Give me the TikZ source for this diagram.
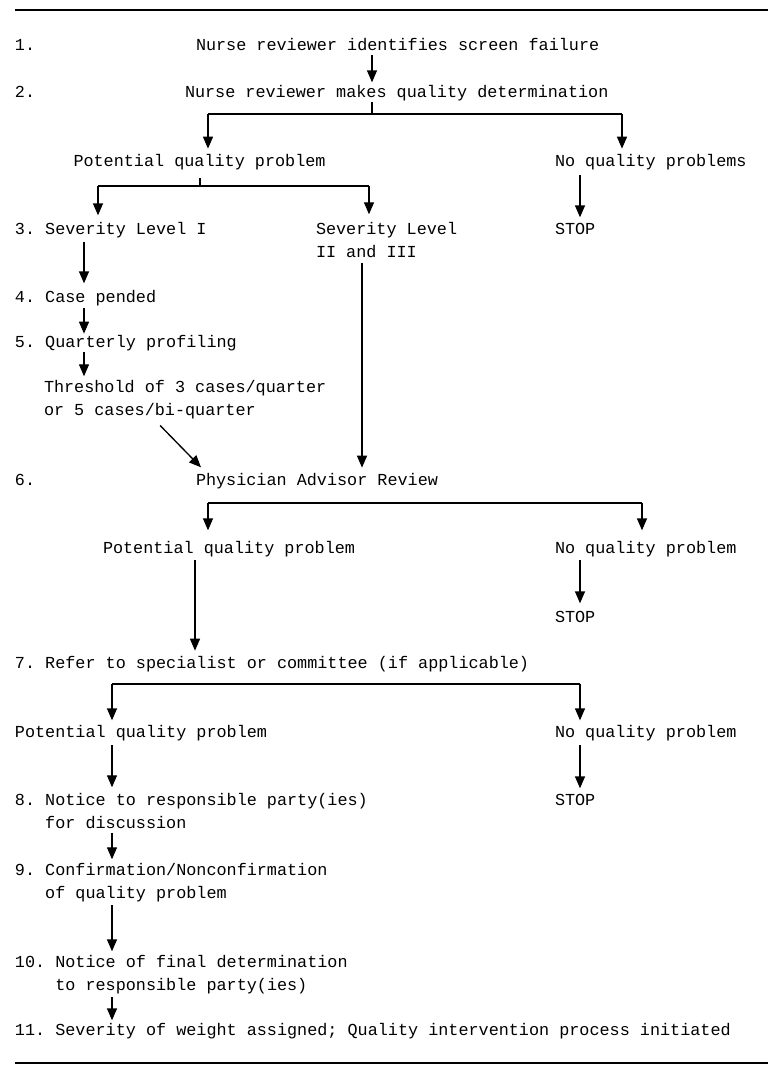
\documentclass[tikz,border=0pt]{standalone}
\usepackage{fontspec}
\newfontfamily\typeFont{Liberation Mono}
\usetikzlibrary{arrows.meta}
\newcommand{\forkBar}[4]{%%
  %% A fork bar named #1 at height #2, from #3 to #4.
  \coordinate (#1l) at (#3,#2);
  \coordinate (#1r) at (#4,#2);
  \draw[barStyle] (#1l) -- (#1r);
}

\begin{document}
\frenchspacing
\begin{tikzpicture}[%%
  x=0.75pt,y=0.75pt,%%
  textStyle/.style={anchor=base west,inner sep=0pt,outer sep=0pt,%%
    font={\typeFont\fontsize{12.6}{16.9}\selectfont\frenchspacing}},%%
  oneLine/.style={textStyle,text height=8pt,text depth=2.5pt},%%
  twoLine/.style={textStyle,align=left},%%
  arrowStyle/.style={-{Triangle[length=9pt,width=7.5pt]},line width=1pt,%%
    shorten <=1.5pt,shorten >=3pt},%%
  stemStyle/.style={-,line width=1pt},%%
  barStyle/.style={-,line width=1.5pt},%%
  ruleStyle/.style={-,line width=1.6pt}
]
\useasboundingbox (0,0) rectangle (768,-1072);
%%
%%
\pgfmathsetmacro{\xNum}{15}
\pgfmathsetmacro{\xStop}{555}
\pgfmathsetmacro{\xRight}{768}
\pgfmathsetmacro{\yTop}{-10}
\pgfmathsetmacro{\yBottom}{-1063}
\coordinate (colA) at (372,0);
\coordinate (colB) at (200,0);
\coordinate (colC) at (84,0);
\coordinate (colD) at (362,0);
\coordinate (colE) at (195,0);
\coordinate (colF) at (112,0);
\coordinate (colStop) at (580,0);
%%
%% The rules above and below.
\draw[ruleStyle] (\xNum,\yTop) -- (\xRight,\yTop);
\draw[ruleStyle] (\xNum,\yBottom) -- (\xRight,\yBottom);
%%
%% Steps 1 and 2.
\node[oneLine] (num1) at (\xNum,-50) {1.};
\node[oneLine] (nurseA) at (196,-50) {Nurse reviewer identifies screen failure};
\node[oneLine] (num2) at (\xNum,-97) {2.};
\node[oneLine] (nurseB) at (185,-97) {Nurse reviewer makes quality determination};
\node[oneLine] (pqA) at (73.5,-166) {Potential quality problem};
\node[oneLine] (nqA) at (\xStop,-166) {No quality problems};
%%
%% Step 3 to 5 (a two-line node sits on its last line).
\node[oneLine] (sevI) at (\xNum,-234) {3. Severity Level I};
\node[twoLine] (sevII) at (316,-257) {Severity Level\\II and III};
\node[oneLine] (stopA) at (\xStop,-234) {STOP};
\node[oneLine] (pended) at (\xNum,-302) {4. Case pended};
\node[oneLine] (profile) at (\xNum,-347) {5. Quarterly profiling};
\node[twoLine] (thresh) at (44,-415) {Threshold of 3 cases/quarter\\or 5 cases/bi-quarter};
%%
%% Step 6.
\node[oneLine] (num6) at (\xNum,-485) {6.};
\node[oneLine] (review) at (196,-485) {Physician Advisor Review};
\node[oneLine] (pqB) at (103,-553) {Potential quality problem};
\node[oneLine] (nqB) at (\xStop,-553) {No quality problem};
\node[oneLine] (stopB) at (\xStop,-622) {STOP};
%%
%% Step 7 to 11.
\node[oneLine] (refer) at (\xNum,-668) {7. Refer to specialist or committee (if applicable)};
\node[oneLine] (pqC) at (\xNum,-737) {Potential quality problem};
\node[oneLine] (nqC) at (\xStop,-737) {No quality problem};
\node[twoLine] (notice) at (\xNum,-828) {8. Notice to responsible party(ies)\\\phantom{8. }for discussion};
\node[oneLine] (stopC) at (\xStop,-805) {STOP};
\node[twoLine] (confirm) at (\xNum,-898) {9. Confirmation/Nonconfirmation\\\phantom{9. }of quality problem};
\node[twoLine] (final) at (\xNum,-990) {10. Notice of final determination\\\phantom{10. }to responsible party(ies)};
\node[oneLine] (assign) at (\xNum,-1035) {11. Severity of weight assigned; Quality intervention process initiated};
%%
%% Connectors of steps 1 and 2.
\draw[arrowStyle] (nurseA.south -| colA) -- (nurseB.north -| colA);
\forkBar{forkA}{-114}{208}{622}
\draw[stemStyle,shorten <=1.5pt] (nurseB.south -| colA) -- (forkAl -| colA);
\draw[arrowStyle,shorten <=0pt,shorten >=5pt] (forkAl) -- (pqA.north -| forkAl);
\draw[arrowStyle,shorten <=0pt,shorten >=5pt] (forkAr) -- (nqA.north -| forkAr);
%%
%% Connectors of steps 3 to 5.
\forkBar{forkB}{-186}{98}{369}
\draw[stemStyle,shorten <=6.5pt] (pqA.south -| colB) -- (forkBl -| colB);
\draw[arrowStyle,shorten <=0pt,shorten >=6pt] (forkBl) -- (sevI.north -| forkBl);
\draw[arrowStyle,shorten <=0pt,shorten >=6pt] (forkBr) -- (sevII.north -| forkBr);
\draw[arrowStyle,shorten <=4.5pt,shorten >=4.5pt] (nqA.south -| colStop) -- (stopA.north -| colStop);
\draw[arrowStyle,shorten <=3.5pt,shorten >=6pt] (sevI.south -| colC) -- (pended.north -| colC);
\draw[arrowStyle,shorten <=2pt,shorten >=2pt] (pended.south -| colC) -- (profile.north -| colC);
\draw[arrowStyle] (profile.south -| colC) -- (thresh.north -| colC);
\draw[arrowStyle,shorten <=0pt,shorten >=0pt] ([shift={(-25,-7)}]thresh.south) -- ([shift={(5,7)}]review.north west);
\draw[arrowStyle,shorten <=4.5pt,shorten >=5pt] (sevII.south -| colD) -- (review.north -| colD);
%%
%% Connectors of step 6.
\forkBar{forkC}{-503}{208}{642}
\draw[arrowStyle,shorten <=0pt,shorten >=9pt] (forkCl) -- (pqB.north -| forkCl);
\draw[arrowStyle,shorten <=0pt,shorten >=9pt] (forkCr) -- (nqB.north -| forkCr);
\draw[arrowStyle,shorten <=3pt,shorten >=5pt] (pqB.south -| colE) -- (refer.north -| colE);
\draw[arrowStyle,shorten <=3pt,shorten >=6pt] (nqB.south -| colStop) -- (stopB.north -| colStop);
%%
%% Connectors of steps 7 to 11.
\forkBar{forkD}{-684}{112}{580}
\draw[arrowStyle,shorten <=0pt,shorten >=4.5pt] (forkDl) -- (pqC.north -| forkDl);
\draw[arrowStyle,shorten <=0pt,shorten >=4.5pt] (forkDr) -- (nqC.north -| forkDr);
\draw[arrowStyle,shorten <=3.5pt,shorten >=4.5pt] (pqC.south -| colF) -- (notice.north -| colF);
\draw[arrowStyle,shorten <=3.5pt,shorten >=4.5pt] (nqC.south -| colStop) -- (stopC.north -| colStop);
\draw[arrowStyle,shorten <=3.5pt] (notice.south -| colF) -- (confirm.north -| colF);
\draw[arrowStyle,shorten <=3pt] (confirm.south -| colF) -- (final.north -| colF);
\draw[arrowStyle,shorten <=3pt] (final.south -| colF) -- (assign.north -| colF);
\end{tikzpicture}
\end{document}
